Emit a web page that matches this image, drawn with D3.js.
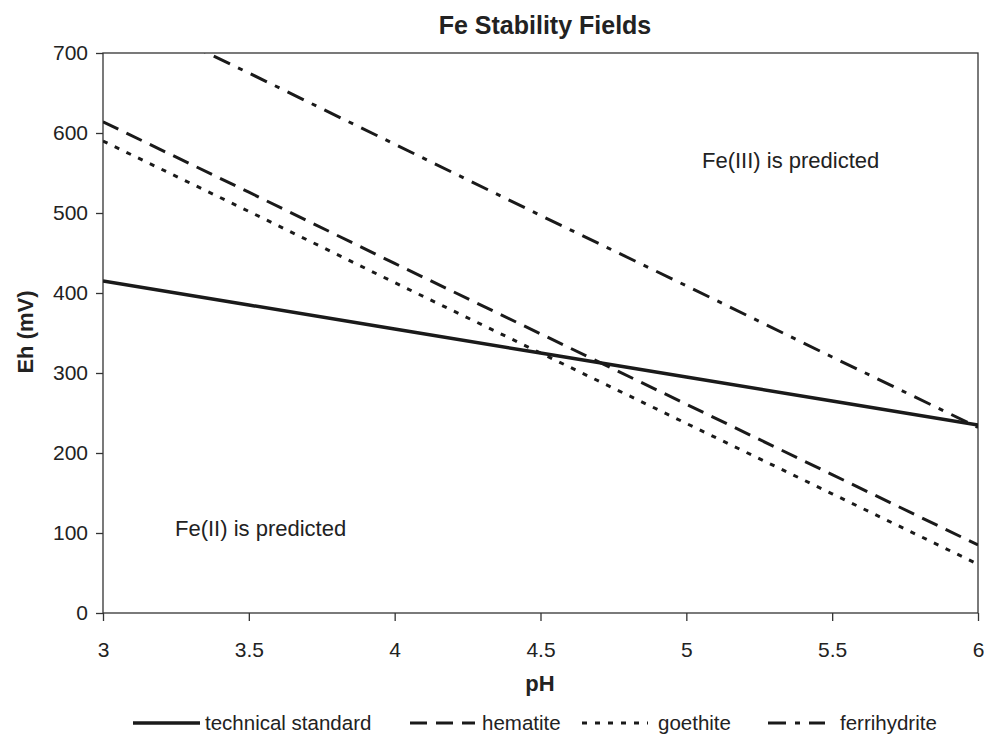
<!DOCTYPE html>
<html>
<head>
<meta charset="utf-8">
<script src="https://cdn.jsdelivr.net/npm/d3@7"></script>
<style>
  body { margin: 0; background: #fff; }
  svg text { font-family: "Liberation Sans", Arial, sans-serif; fill: #222; }
</style>
</head>
<body>
<svg width="984" height="734"></svg>
<script>
// pH values and Eh (mV) for each series
const pH = [3, 3.5, 4, 4.5, 5, 5.5, 6];
const technicalStandard = [415, 385, 355, 325, 295, 265, 235];
const hematite = [614, 526, 437, 349, 261, 173, 85];
const goethite = [590, 502, 413, 325, 237, 149, 61];
const ferrihydrite = [763, 675, 586, 497, 409, 320, 232];

const xTicks = [3, 3.5, 4, 4.5, 5, 5.5, 6];
const yTicks = [0, 100, 200, 300, 400, 500, 600, 700];

const series = [
  { name: "technical standard", values: technicalStandard, dash: null, width: 3.5 },
  { name: "hematite", values: hematite, dash: "17,9", width: 3 },
  { name: "goethite", values: goethite, dash: "5,8", width: 3 },
  { name: "ferrihydrite", values: ferrihydrite, dash: "18,9,5,9", width: 3 }
];

const plotLeft = 103, plotRight = 978, plotTop = 53, plotBottom = 613;

const svg = d3.select("svg");

const x = d3.scaleLinear().domain([3, 6]).range([plotLeft, plotRight]);
const y = d3.scaleLinear().domain([0, 700]).range([plotBottom, plotTop]);

svg.append("defs").append("clipPath").attr("id", "plot")
  .append("rect")
  .attr("x", plotLeft).attr("y", plotTop)
  .attr("width", plotRight - plotLeft).attr("height", plotBottom - plotTop);

// axes
const xAxis = d3.axisBottom(x).tickValues(xTicks).tickSize(8).tickPadding(21)
  .tickFormat(d3.format("~g"));
const yAxis = d3.axisLeft(y).tickValues(yTicks).tickSize(7).tickPadding(8);

const gx = svg.append("g").attr("transform", `translate(0,${plotBottom})`).call(xAxis);
const gy = svg.append("g").attr("transform", `translate(${plotLeft},0)`).call(yAxis);
[gx, gy].forEach((g) => {
  g.select(".domain").remove();
  g.selectAll("line").attr("stroke", "#333").attr("stroke-width", 1.3);
  g.selectAll("text").style("font-size", "21px").attr("fill", "#222");
});

// frame
svg.append("rect")
  .attr("x", plotLeft).attr("y", plotTop)
  .attr("width", plotRight - plotLeft).attr("height", plotBottom - plotTop)
  .attr("fill", "none").attr("stroke", "#333").attr("stroke-width", 1.3);

// lines
const line = d3.line().x((d, i) => x(pH[i])).y((d) => y(d));

svg.append("g").attr("clip-path", "url(#plot)")
  .selectAll("path")
  .data(series)
  .enter()
  .append("path")
  .attr("d", (d) => line(d.values))
  .attr("fill", "none")
  .attr("stroke", "#1a1a1a")
  .attr("stroke-width", (d) => d.width)
  .attr("stroke-dasharray", (d) => d.dash);

// titles
svg.append("text").attr("x", 545).attr("y", 34).attr("text-anchor", "middle")
  .style("font-size", "25px").style("font-weight", "bold").text("Fe Stability Fields");
svg.append("text").attr("x", 540).attr("y", 691).attr("text-anchor", "middle")
  .style("font-size", "22px").style("font-weight", "bold").text("pH");
svg.append("text").attr("transform", "translate(33,332) rotate(-90)").attr("text-anchor", "middle")
  .style("font-size", "22px").style("font-weight", "bold").text("Eh (mV)");

// annotations
svg.append("text").attr("x", 702).attr("y", 168)
  .style("font-size", "22px").text("Fe(III) is predicted");
svg.append("text").attr("x", 175).attr("y", 536)
  .style("font-size", "22px").text("Fe(II) is predicted");

// legend
const legendX = [133, 410, 582, 768];
const legendW = [67, 65, 66, 57];
const legendText = [205, 482, 658, 840];
const lg = svg.append("g").selectAll("g").data(series).enter().append("g");
lg.append("line")
  .attr("x1", (d, i) => legendX[i])
  .attr("x2", (d, i) => legendX[i] + legendW[i])
  .attr("y1", 723).attr("y2", 723)
  .attr("stroke", "#1a1a1a")
  .attr("stroke-width", (d) => d.width)
  .attr("stroke-dasharray", (d) => d.dash);
lg.append("text")
  .attr("x", (d, i) => legendText[i])
  .attr("y", 730)
  .style("font-size", "20.5px")
  .text((d) => d.name);
</script>
</body>
</html>
